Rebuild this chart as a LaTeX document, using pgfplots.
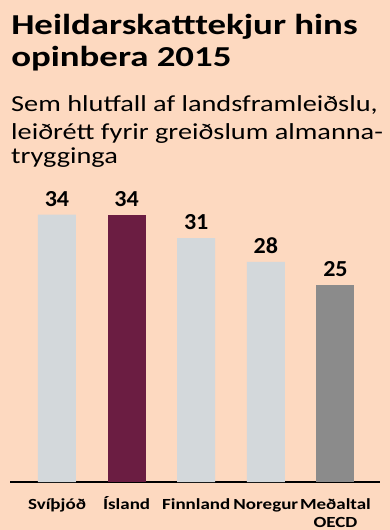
\documentclass[border=0pt]{standalone}
\usepackage{pgfplots}
\pgfplotsset{compat=1.18}
\usepackage{fontspec}
\setmainfont{Carlito}
\definecolor{bg}{HTML}{FDD9C0}
\definecolor{barlight}{HTML}{D3D8DB}
\definecolor{barmaroon}{HTML}{6B1D42}
\definecolor{bardark}{HTML}{8B8B8B}
\begin{document}
\begin{tikzpicture}
\fill[bg] (0bp,0bp) rectangle (390bp,-530bp);
\useasboundingbox (0bp,0bp) rectangle (390bp,-530bp);
\tikzset{ttl/.style={anchor=base west,inner sep=0pt,xscale=1.275,font=\fontsize{29}{33}\selectfont\bfseries},
         sub/.style={anchor=base west,inner sep=0pt,xscale=1.235,font=\fontsize{23}{26}\selectfont}}
\node[ttl] at (11bp,-34.3bp) {Heildarskatttekjur hins};
\node[ttl] at (11bp,-66.7bp) {opinbera 2015};
\node[sub] at (11bp,-111.7bp) {Sem hlutfall af landsframleiðslu,};
\node[sub] at (11bp,-139bp) {leiðrétt fyrir greiðslum almanna-};
\node[sub] at (11bp,-163bp) {trygginga};
\begin{axis}[
  at={(10bp,-482bp)}, anchor=south west,
  scale only axis, width=370bp, height=302bp,
  xmin=-0.675, xmax=4.64, ymin=0, ymax=38.4,
  axis y line=none, axis x line*=bottom,
  x axis line style={line width=1.8bp, black},
  xtick={0,1,2,3,4},
  xticklabels={\strut Svíþjóð,\strut Ísland,\strut Finnland,\strut Noregur,{\strut Meðaltal\\\strut OECD}},
  xticklabel style={font=\fontsize{15.5}{18.5}\selectfont\bfseries, align=center, anchor=north, inner sep=0pt, xscale=1.23, yshift=-14bp},
  major tick length=0pt,
  ybar, bar width=38bp, bar shift=0pt,
  /pgf/number format/assume math mode=true,
  nodes near coords,
  every node near coord/.append style={font=\fontsize{23}{23}\selectfont\bfseries, anchor=base, inner sep=0pt, yshift=8.5bp, xscale=1.05, black},
]
\addplot[fill=barlight, draw=none] coordinates {(0,34) (2,31) (3,28)};
\addplot[fill=barmaroon, draw=none] coordinates {(1,34)};
\addplot[fill=bardark, draw=none] coordinates {(4,25)};
\end{axis}
\end{tikzpicture}
\end{document}
